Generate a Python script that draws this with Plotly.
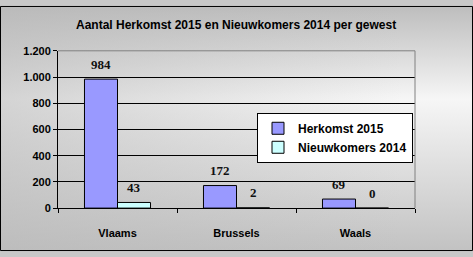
import base64
import plotly.graph_objects as go

categories = ["Vlaams", "Brussels", "Waals"]
herkomst_2015 = [984, 172, 69]
nieuwkomers_2014 = [43, 2, 0]
y_tick_vals = [0, 200, 400, 600, 800, 1000, 1200]
y_tick_text = ["0", "200", "400", "600", "800", "1.000", "1.200"]
title_text = "Aantal Herkomst 2015 en Nieuwkomers 2014 per gewest"

W, H = 473, 257
px0, px1 = 58, 415
py_top, py_bot = 47, 212
SANS = "Liberation Sans, Arial, sans-serif"

svg = (
    '<svg xmlns="http://www.w3.org/2000/svg" width="473" height="257" viewBox="0 0 473 257" preserveAspectRatio="none">'
    '<defs><linearGradient id="g" x1="0" y1="0" x2="0" y2="1">'
    '<stop offset="0" stop-color="#bdbdbd"/><stop offset="0.38" stop-color="#f6f6f6"/>'
    '<stop offset="1" stop-color="#c2c2c2"/></linearGradient>'
    '<linearGradient id="h" x1="0" y1="0" x2="1" y2="0">'
    '<stop offset="0" stop-color="#b8b8b8" stop-opacity="0.55"/>'
    '<stop offset="0.85" stop-color="#b8b8b8" stop-opacity="0"/></linearGradient></defs>'
    '<rect width="473" height="257" fill="url(#g)"/>'
    '<rect width="473" height="257" fill="url(#h)"/></svg>'
)
bg_uri = "data:image/svg+xml;base64," + base64.b64encode(svg.encode()).decode()

fig = go.Figure()
fig.add_trace(go.Bar(
    x=categories, y=herkomst_2015, name="<b>Herkomst 2015</b>",
    marker=dict(color="#9999FF", line=dict(color="black", width=1)),
))
fig.add_trace(go.Bar(
    x=categories, y=nieuwkomers_2014, name="<b>Nieuwkomers 2014</b>",
    marker=dict(color="#CCFFFF", line=dict(color="black", width=1)),
))

annotations = []
for series, shift in ((herkomst_2015, -16.5), (nieuwkomers_2014, 16.5)):
    for cat, val in zip(categories, series):
        annotations.append(dict(
            x=cat, y=val, xref="x", yref="y", text="<b>%d</b>" % val, showarrow=False,
            xshift=shift, yshift=15, yanchor="middle",
            font=dict(family="Liberation Serif, Times New Roman, serif", size=13, color="#111111"),
        ))
annotations.append(dict(
    x=236 / W, y=1 - 20 / H, xref="paper", yref="paper", text="<b>%s</b>" % title_text, showarrow=False,
    xanchor="center", yanchor="middle",
    font=dict(family=SANS, size=12, color="black"),
))

fig.update_layout(
    width=W, height=H,
    margin=dict(l=0, r=0, t=0, b=0),
    paper_bgcolor="#c8c8c8",
    plot_bgcolor="#C0C0C0",
    barmode="group", bargap=0.445, bargroupgap=0,
    showlegend=True,
    legend=dict(
        x=257 / W, y=1 - 112 / H, xanchor="left", yanchor="top",
        bgcolor="white", bordercolor="black", borderwidth=1,
        font=dict(family=SANS, size=12, color="black"),
        tracegroupgap=0, itemwidth=30,
    ),
    xaxis=dict(
        domain=[px0 / W, px1 / W], type="category",
        tickvals=categories, ticktext=["<b>%s</b>" % c for c in categories],
        showline=True, linecolor="black", linewidth=1,
        ticks="outside", ticklen=4, tickcolor="black", tickson="boundaries",
        ticklabelstandoff=15,
        tickfont=dict(family=SANS, size=11, color="black"),
        showgrid=False, fixedrange=True,
    ),
    yaxis=dict(
        domain=[1 - py_bot / H, 1 - py_top / H], range=[0, 1200],
        tickvals=y_tick_vals, ticktext=["<b>%s</b>" % t for t in y_tick_text],
        showline=True, linecolor="black", linewidth=1,
        ticks="outside", ticklen=4, tickcolor="black",
        showgrid=True, gridcolor="black", gridwidth=1, zeroline=False,
        tickfont=dict(family=SANS, size=11, color="black"),
        fixedrange=True,
    ),
    images=[dict(
        source=bg_uri, xref="paper", yref="paper", x=0, y=1, sizex=1, sizey=1,
        xanchor="left", yanchor="top", sizing="stretch", layer="below",
    )],
    shapes=[
        dict(type="line", xref="paper", yref="paper", x0=px1 / W, x1=px1 / W, y0=1 - py_bot / H, y1=1 - py_top / H,
             line=dict(color="#808080", width=1), layer="above"),
        dict(type="line", xref="paper", yref="paper", x0=px0 / W, x1=px1 / W, y0=1 - py_top / H, y1=1 - py_top / H,
             line=dict(color="#808080", width=1), layer="above"),
        dict(type="rect", xref="paper", yref="paper", x0=0.5 / W, x1=1 - 0.5 / W, y0=0.5 / H, y1=1 - 0.5 / H,
             line=dict(color="black", width=1), layer="above"),
    ],
    annotations=annotations,
)

fig.write_html("out.html", config={"displayModeBar": False})
